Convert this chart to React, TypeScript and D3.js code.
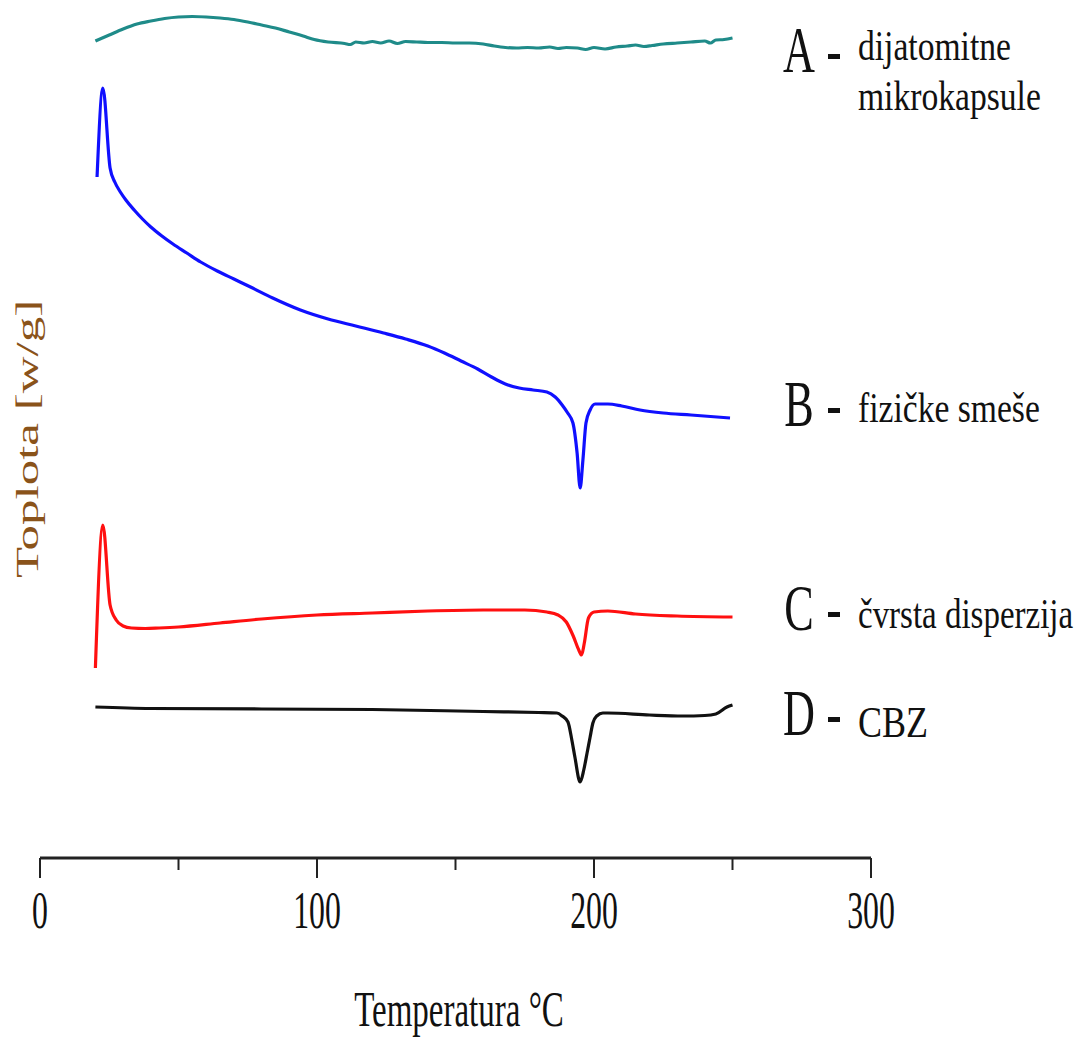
import React from "react";
import * as d3 from "d3";

// Temperature (°C) and relative heat flow (arbitrary units, stacked offsets)
const tempA = [20, 25, 30, 35, 40, 45, 50, 55, 60, 65, 70, 75, 80, 85, 90, 95, 99, 104, 110, 112, 114, 117, 120, 123, 126, 129, 132, 136, 140, 145, 150, 155, 160, 164, 168, 172, 176, 180, 184, 187, 190, 194, 197, 200, 204, 208, 212, 215, 218, 221, 225, 230, 235, 240, 242, 244, 247, 250];
const heatA = [817, 823, 829, 834, 837, 839.5, 841, 841.5, 841, 840, 838.5, 836, 833, 830, 826, 822, 818.5, 816, 814.5, 813.5, 816, 815, 816.5, 815, 817, 814.5, 816.5, 816, 815.5, 815.5, 815, 815, 814, 812, 810.5, 810, 810.5, 810, 811, 809.5, 810.5, 810, 808.5, 810.5, 809, 811, 812, 813, 811.5, 812.5, 814, 815, 816, 817, 815, 818, 818.5, 820];

const tempB = [20.6, 22.7, 25.3, 27, 29, 31, 34, 37, 40, 44, 48, 53, 58, 64, 70, 76, 84, 94, 104, 114, 124, 132, 140, 146, 152, 158, 163, 168, 173, 178, 183, 186, 188.5, 190.5, 192.4, 193.9, 195, 196, 197.1, 198.6, 200.4, 205, 210, 216.6, 225, 235, 249.1];
const heatB = [681, 770, 690, 676, 666, 658, 648, 639, 631, 622, 614, 605, 596, 587, 579, 571, 560, 548, 539, 532, 525, 519, 512, 505, 497, 489, 481, 474, 470, 468, 466, 461, 453, 445, 435, 405, 370, 398, 435, 448, 454, 454, 452, 448, 445, 443, 440];

const tempC = [20, 22.7, 25.3, 27.5, 30, 33, 38, 43, 50, 65, 80, 100, 120, 140, 160, 175, 183, 187, 190, 192.5, 194.5, 195.5, 196.5, 198, 200, 205, 215, 230, 250];
const heatC = [190, 333, 253, 238, 232, 230, 229.5, 230, 231, 235, 239, 243, 245, 247, 248, 248, 246, 243, 236, 222, 208, 203, 215, 240, 246, 247, 244, 242, 241];

const tempD = [20, 40, 80, 120, 160, 180, 186.6, 188.5, 190.6, 192, 193.1, 195, 196.3, 197.5, 198.6, 199.6, 201, 203.2, 205, 220, 232, 240, 244, 248, 250];
const heatD = [151, 149.5, 149, 148.5, 146.5, 145.5, 145, 142, 136, 118, 101, 76, 88, 105, 121, 135, 142, 145, 145, 143, 142, 142.5, 144, 151, 153];

const seriesLetters = ["A", "B", "C", "D"];
const seriesNames = [["dijatomitne", "mikrokapsule"], ["fizičke smeše"], ["čvrsta disperzija"], ["CBZ"]];
const seriesColors = ["#1f8b89", "#1010ff", "#ff1010", "#111111"];

const xTicksMajor = [0, 100, 200, 300];
const xTicksMinor = [50, 150, 250];

const xTitle = "Temperatura °C";
const yTitle = "Toplota [w/g]";

const W = 1081;
const H = 1039;
const FONT = "'Liberation Serif', 'Times New Roman', serif";

export default function App() {
  const x = d3.scaleLinear().domain([0, 300]).range([40, 871]);
  const y = d3.scaleLinear().domain([0, 858]).range([858, 0]);
  const line = d3
    .line<[number, number]>()
    .x((d) => x(d[0]))
    .y((d) => y(d[1]))
    .curve(d3.curveMonotoneX);

  const temps = [tempA, tempB, tempC, tempD];
  const heats = [heatA, heatB, heatC, heatD];
  const series = temps.map((t, i) => t.map((v, j) => [v, heats[i][j]] as [number, number]));

  const letterBase = [72, 426, 630, 735];
  const nameBase = [[60, 110], [422], [628], [737]];
  const nameSize = [42, 42, 42, 45];
  const nameScale = [0.8, 0.8, 0.785, 0.8];

  const axisY = y(0);

  return (
    <svg width={W} height={H} style={{ position: "absolute", left: 0, top: 0, background: "#fff" }} fontFamily={FONT}>
      <rect width={W} height={H} fill="#fff" />
      {series.map((s, i) => (
        <path key={i} d={line(s) || ""} fill="none" stroke={seriesColors[i]} strokeWidth={3.2} strokeLinejoin="round" />
      ))}

      {/* x axis */}
      <line x1={x(0)} x2={x(300)} y1={axisY} y2={axisY} stroke="#222" strokeWidth={3} />
      {xTicksMajor.map((t) => (
        <line key={"M" + t} x1={x(t)} x2={x(t)} y1={axisY} y2={axisY + 20} stroke="#222" strokeWidth={2} />
      ))}
      {xTicksMinor.map((t) => (
        <line key={"m" + t} x1={x(t)} x2={x(t)} y1={axisY} y2={axisY + 12} stroke="#222" strokeWidth={2} />
      ))}
      {xTicksMajor.map((t) => (
        <text key={"l" + t} transform={`translate(${x(t)},928) scale(0.6,1)`} textAnchor="middle" fontSize={53} fill="#111">
          {t}
        </text>
      ))}
      <text transform="translate(459,1026) scale(0.66,1)" textAnchor="middle" fontSize={50} fill="#111">
        {xTitle}
      </text>
      <text transform="translate(38,439) rotate(-90) scale(1,0.62)" textAnchor="middle" fontSize={51} fill="#8a531a">
        {yTitle}
      </text>

      {/* labels */}
      {seriesLetters.map((L, i) => (
        <g key={L}>
          <text transform={`translate(799,${letterBase[i]}) scale(0.67,1)`} textAnchor="middle" fontSize={66} fill="#111">
            {L}
          </text>
          <rect x={828} y={letterBase[i] - 18} width={12} height={5} fill="#111" />
          {seriesNames[i].map((n, k) => (
            <text key={k} transform={`translate(858,${nameBase[i][k]}) scale(${nameScale[i]},1)`} fontSize={nameSize[i]} fill="#111">
              {n}
            </text>
          ))}
        </g>
      ))}
    </svg>
  );
}
